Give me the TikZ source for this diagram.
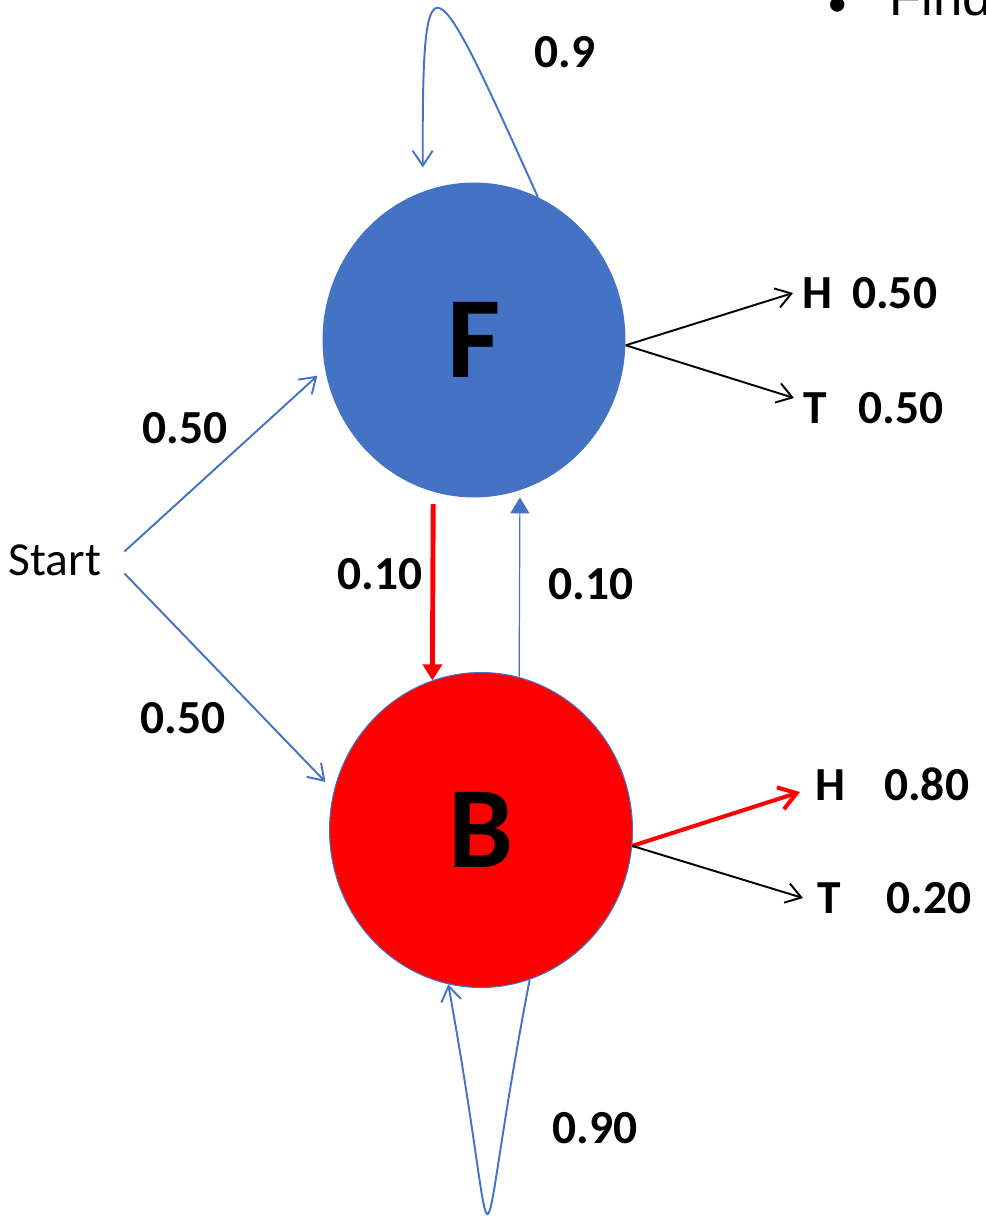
\documentclass[tikz,border=0pt]{standalone}
\usepackage{fontspec}
\setmainfont{Carlito}
\newfontfamily\slidefont{Liberation Sans}
\usepackage{xcolor}
\usetikzlibrary{arrows.meta,shapes.geometric}
\definecolor{faircolor}{RGB}{68,114,196}
\definecolor{biascolor}{RGB}{255,0,0}
\tikzset{
  hmm state/.style={
    ellipse,
    minimum width=6.06cm,
    minimum height=6.3cm,
    inner sep=0pt,
    font=\fontsize{66}{70}\selectfont\bfseries
  },
  fair state/.style={
    hmm state,
    fill=faircolor
  },
  bias state/.style={
    hmm state,
    fill=biascolor,
    draw=faircolor,
    line width=0.6pt
  },
  prob/.style={
    font=\fontsize{27}{32}\selectfont\bfseries
  },
  emit/.style={
    prob,
    anchor=west,
    inner xsep=0.18cm,
    inner ysep=0pt
  },
  open arrow/.style={
    -{Straight Barb[length=0.3cm,width=0.4cm]},
    line width=1.1pt
  },
  solid arrow/.style={
    -{Triangle[length=0.32cm,width=0.38cm]}
  }
}

\begin{document}
\begin{tikzpicture}[x=0.02cm, y=-0.02cm]
  \useasboundingbox (0,0) rectangle (985,1217);

  % Hidden states
  \node[fair state] (f) at (474,340) {F};
  \node[bias state] (b) at (481,830) {B};
  \node[font=\fontsize{27}{32}\selectfont, inner xsep=0.46cm, inner ysep=0.2cm] (start) at (55,560) {Start};

  % Emission labels
  \node[emit] (fh) at (793,293) {H\hspace{0.4cm}0.50};
  \node[emit] (ft) at (794,408) {T\hspace{0.64cm}0.50};
  \node[emit, inner xsep=0.3cm] (bh) at (800,784) {H\hspace{0.78cm}0.80};
  \node[emit, inner xsep=0.28cm] (bt) at (803,898) {T\hspace{0.92cm}0.20};

  % Transition labels
  \node[prob] (pf) at (185,428) {0.50};
  \node[prob] (pb) at (183,718) {0.50};
  \node[prob] (pfb) at (380,574) {0.10};
  \node[prob] (pbf) at (591,584) {0.10};
  \node[prob] (pff) at (565,52) {0.9};
  \node[prob] (pbb) at (595,1128) {0.90};

  % Slide text cut off at the edge
  \node[font=\slidefont\fontsize{30}{36}\selectfont, anchor=base, inner sep=0pt] (dot) at (838,22) {•};
  \node[font=\slidefont\fontsize{30}{36}\selectfont, anchor=base west, inner sep=0pt] (find) at (889,15) {Find};

  % Start
  \draw[open arrow, faircolor, shorten >=0.2cm] (start.7) -- (f.191);
  \draw[open arrow, faircolor, shorten >=0.24cm] (start.-11) -- (b.165);

  % Switching
  \draw[solid arrow, biascolor, line width=2.8pt, shorten <=0.24cm] (f.-105) -- (b.108);
  \draw[solid arrow, faircolor, line width=0.7pt, shorten >=0.14cm] (b.76) -- (f.-73);

  % Self loops
  \draw[open arrow, faircolor, shorten >=0.48cm] (f.66) .. controls (432,-37) and (422,-61) .. (f.109);
  \draw[open arrow, faircolor] (b.-72) .. controls (470,1291) and (504,1291) .. (b.-102);

  % Emissions
  \draw[open arrow, black] (f.-2) -- (fh.west);
  \draw[open arrow, black] (f.-2) -- ([yshift=0.2cm]ft.west);
  \draw[-{Straight Barb[length=0.34cm,width=0.46cm]}, line width=2.3pt, biascolor] (b.-6) -- ([yshift=-0.16cm]bh.west);
  \draw[open arrow, black] (b.-6) -- (bt.west);

\end{tikzpicture}
\end{document}
